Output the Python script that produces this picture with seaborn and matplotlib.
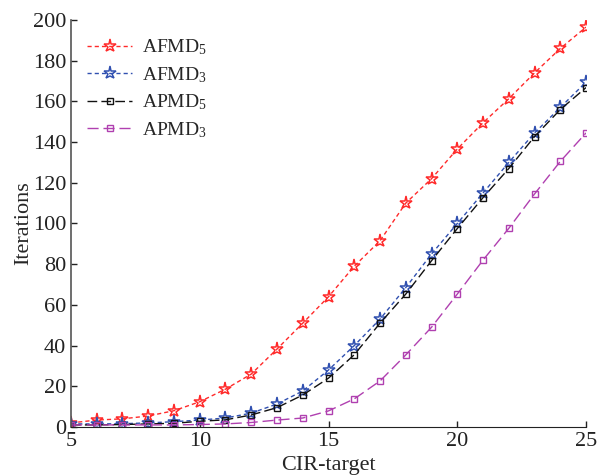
import matplotlib
matplotlib.use("Agg")
import matplotlib.pyplot as plt
import seaborn as sns
import pandas as pd

cir = list(range(5, 26))
afmd5 = [2, 3.4, 4, 5.4, 8, 12.4, 18.6, 26, 38.3, 51, 64, 79, 91.5, 110, 122, 136.6, 149.5, 161.3, 174, 186, 196.5]
afmd3 = [1.5, 1.5, 1.6, 2, 2.6, 3.4, 4.4, 6.8, 11.3, 17.7, 28, 40, 53, 68.5, 85, 100, 115, 130, 144.5, 157, 169.5]
apmd5 = [1, 1, 1.2, 1.5, 1.8, 2.8, 3.5, 5.9, 9.5, 15.7, 24, 35.5, 51, 65.3, 81.7, 97.5, 112.7, 127, 142.7, 156, 166.8]
apmd3 = [1, 1, 1, 1, 1, 1.2, 1.5, 2.2, 3.4, 4.4, 7.9, 13.8, 22.6, 35.4, 49, 65.3, 82, 97.6, 114.5, 130.5, 144.5]
labels = ["AFMD$_5$", "AFMD$_3$", "APMD$_5$", "APMD$_3$"]

sns.set_style("ticks")
plt.rcParams["font.family"] = ["Liberation Serif", "DejaVu Serif"]
plt.rcParams["mathtext.default"] = "regular"

fig = plt.figure(figsize=(5.98, 4.76), dpi=100)
ax = fig.add_axes([0.1187, 0.103, 0.8613, 0.855])

styles = [
    dict(color="#ff2a2a", linestyle=(0, (3, 2.2)), marker="*", markersize=9.5, mfc="none", mew=1.1),
    dict(color="#3050b0", linestyle=(0, (3, 2.2)), marker="*", markersize=9.5, mfc="none", mew=1.1),
    dict(color="#111111", linestyle=(0, (7, 3)), marker="s", markersize=4.5, mfc="none", mew=1.0),
    dict(color="#b040b0", linestyle=(0, (8, 3.5)), marker="s", markersize=4.5, mfc="none", mew=1.0),
]
for vals, lab, st in zip([afmd5, afmd3, apmd5, apmd3], labels, styles):
    df = pd.DataFrame({"x": cir, "y": vals})
    sns.lineplot(data=df, x="x", y="y", ax=ax, label=lab, color=st["color"],
                 linestyle=st["linestyle"], marker=st["marker"], markersize=st["markersize"],
                 markerfacecolor=st["mfc"], markeredgecolor=st["color"], markeredgewidth=st["mew"],
                 linewidth=1.0)

ax.set_xlim(5, 25)
ax.set_ylim(0, 200)
ax.set_xticks([5, 10, 15, 20, 25])
ax.set_yticks(range(0, 201, 20))
ax.tick_params(direction="in", length=4, labelsize=16, colors="#222222", width=1)
for s in ["top", "right"]:
    ax.spines[s].set_visible(False)
ax.spines["left"].set_color("#555555")
ax.spines["bottom"].set_color("#222222")
ax.spines["left"].set_linewidth(1.2)
ax.set_xlabel("CIR-target", fontsize=16, labelpad=4)
ax.set_ylabel("Iterations", fontsize=16, labelpad=0)
leg = ax.legend(loc="upper left", frameon=False, fontsize=14, handlelength=2.3,
                handletextpad=0.5, bbox_to_anchor=(-0.002, 1.0), labelspacing=0.4)
fig.savefig("out.png", dpi=100)
